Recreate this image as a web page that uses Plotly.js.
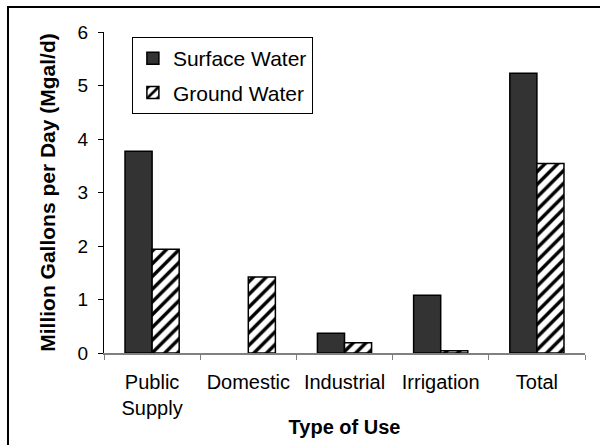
<!DOCTYPE html>
<html>
<head>
<meta charset="utf-8">
<script src="https://cdn.plot.ly/plotly-3.0.1.min.js"></script>
<style>html,body{margin:0;padding:0;background:#fff;}#chart{width:600px;height:445px;}</style>
</head>
<body>
<div id="chart"></div>
<script>
var categories = ["Public<br>Supply", "Domestic", "Industrial", "Irrigation", "Total"];
var surfaceWater = [3.77, null, 0.37, 1.08, 5.23];
var groundWater = [1.94, 1.42, 0.19, 0.04, 3.54];
var yTicks = [0, 1, 2, 3, 4, 5, 6];

var FONT = "Liberation Sans, Arial, sans-serif";

var traces = [
  {
    type: "bar", name: "Surface Water", x: categories, y: surfaceWater,
    legendgroup: "a",
    marker: {color: "#333333", line: {color: "#000000", width: 1.5}},
    hoverinfo: "none"
  },
  {
    type: "bar", name: "Ground Water", x: categories, y: groundWater,
    legendgroup: "b",
    marker: {color: "#ffffff", line: {color: "#000000", width: 1.5},
      pattern: {shape: "/", fgcolor: "#000000", bgcolor: "#ffffff", size: 9, solidity: 0.38}},
    hoverinfo: "none"
  }
];

var layout = {
  width: 600, height: 445,
  margin: {l: 104, r: 15, t: 32, b: 92},
  paper_bgcolor: "#ffffff", plot_bgcolor: "#ffffff",
  font: {family: FONT, color: "#000000"},
  barmode: "group", bargap: 0.437, bargroupgap: 0,
  showlegend: true,
  legend: {
    x: 0.058, y: 0.984, xanchor: "left", yanchor: "top",
    bgcolor: "#ffffff", bordercolor: "#000000", borderwidth: 1,
    font: {family: FONT, size: 21, color: "#000000"},
    traceorder: "grouped", tracegroupgap: 4
  },
  xaxis: {
    type: "category",
    showline: true, linecolor: "#808080", linewidth: 1.5,
    ticks: "outside", tickson: "boundaries", ticklen: 5, tickcolor: "#808080", tickwidth: 1,
    showgrid: false, zeroline: false, ticklabelstandoff: 10,
    tickfont: {family: FONT, size: 20, color: "#000000"},
    title: {text: "<b>Type of Use</b>", font: {family: FONT, size: 20, color: "#000000"}, standoff: 2}
  },
  yaxis: {
    range: [0, 6], tickvals: yTicks, ticktext: yTicks.map(String),
    showline: true, linecolor: "#000000", linewidth: 1,
    ticks: "outside", ticklen: 5, tickcolor: "#000000", tickwidth: 1,
    showgrid: false, zeroline: false, ticklabelstandoff: 6,
    tickfont: {family: FONT, size: 19, color: "#000000"},
    title: {text: "<b>Million Gallons per Day (Mgal/d)</b>", font: {family: FONT, size: 21, color: "#000000"}, standoff: 16}
  },
  shapes: [
    {type: "rect", xref: "paper", yref: "paper", x0: -0.1996, x1: 1.3, y0: -0.6, y1: 1.0779,
     line: {color: "#000000", width: 2}, fillcolor: "rgba(0,0,0,0)", layer: "above"}
  ]
};

Plotly.newPlot("chart", traces, layout, {displayModeBar: false, staticPlot: true});
</script>
</body>
</html>
